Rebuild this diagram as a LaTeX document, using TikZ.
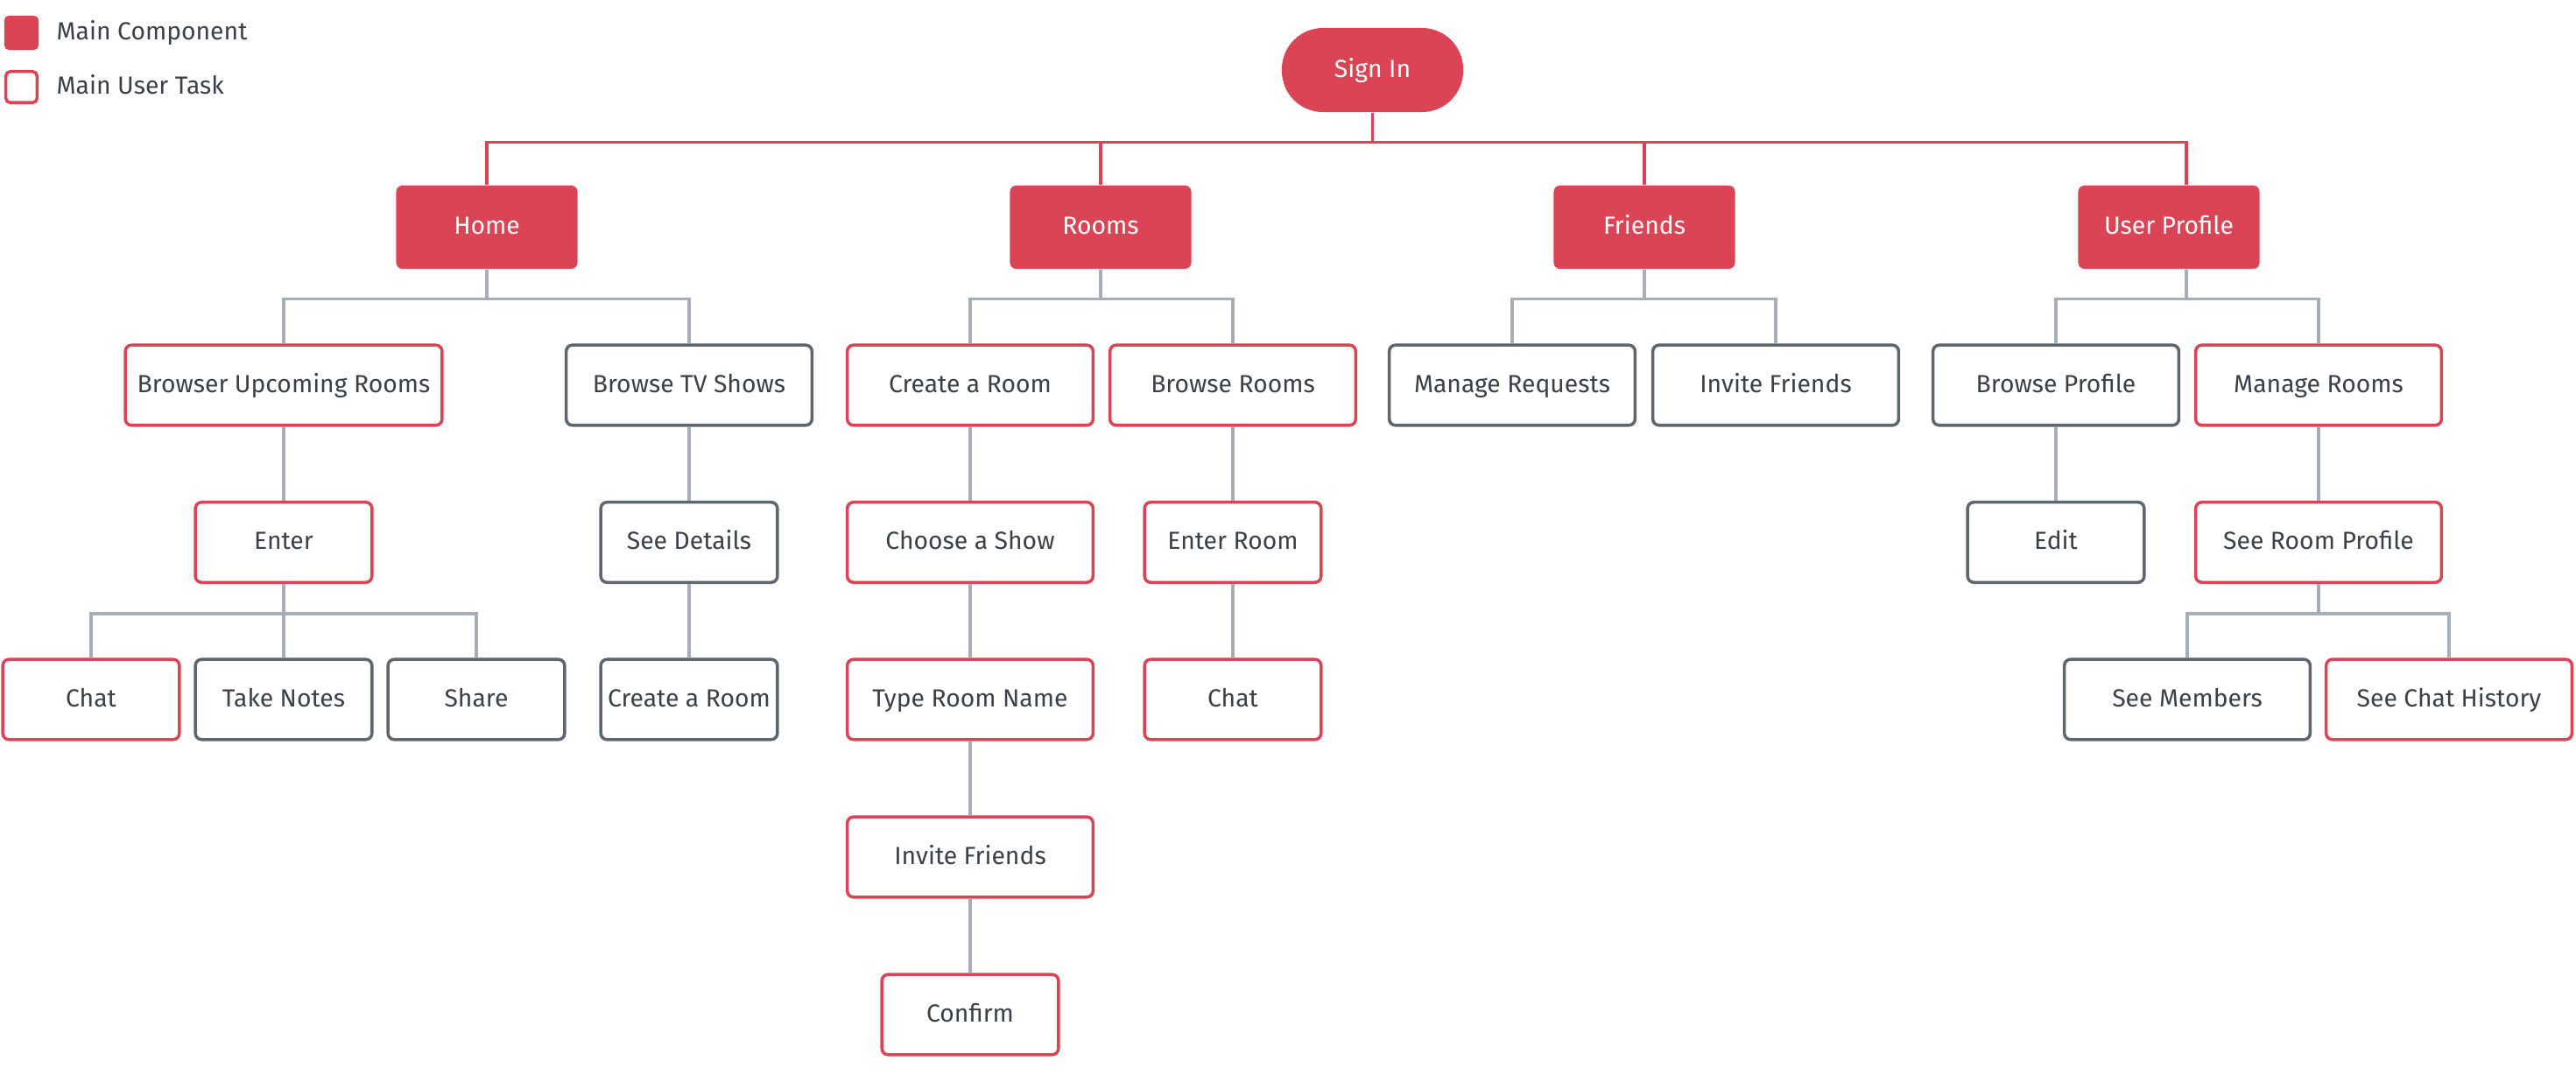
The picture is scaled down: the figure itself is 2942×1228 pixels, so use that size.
\documentclass[tikz,border=0pt]{standalone}
\usepackage{fontspec}
\setmainfont{Fira Sans}
\definecolor{mainred}{HTML}{DB4455}
\definecolor{boxgray}{HTML}{5E6670}
\definecolor{linkgray}{HTML}{A5AEBA}
\definecolor{textgray}{HTML}{3B4149}

\begin{document}
\begin{tikzpicture}[x=0.01cm, y=-0.01cm,
  every node/.style={font=\fontsize{8.05}{10}\selectfont, text=textgray, inner sep=0pt, text height=0.69em, text depth=0.22em},
  comp/.style={fill=mainred, text=white, rounded corners=0.07cm, minimum width=2.07cm, minimum height=0.95cm},
  task/.style={draw=mainred, line width=1pt, fill=white, rounded corners=0.07cm, minimum width=2.015cm, minimum height=0.915cm},
  sub/.style={task, draw=boxgray},
  wide/.style={minimum width=2.805cm},
  redlink/.style={draw=mainred, line width=1pt},
  link/.style={draw=linkgray, line width=1pt}]

\useasboundingbox (0,0) rectangle (2942,1228);

% legend
\node[comp, minimum width=0.39cm, minimum height=0.39cm, rounded corners=0.05cm] (leg_comp) at (24.5,37.5) {};
\node[task, minimum width=0.355cm, minimum height=0.355cm, rounded corners=0.05cm] (leg_task) at (24.5,99.5) {};
\node[anchor=west] (leg_comp_txt) at (64,37.5) {Main Component};
\node[anchor=west] (leg_task_txt) at (64,99.5) {Main User Task};

\node[comp, rounded corners=0.47cm, minimum height=0.96cm] (signin) at (1567.5,80) {Sign In};

\node[comp] (home)    at (556,259.5)  {Home};
\node[comp] (rooms)   at (1257,259.5) {Rooms};
\node[comp] (friends) at (1878,259.5) {Friends};
\node[comp] (uprof)   at (2477,259.5) {User Profile};

\node[task, minimum width=3.615cm] (bur) at (324,440) {Browser Upcoming Rooms};
\node[sub, wide]  (btv)    at (787,440)  {Browse TV Shows};
\node[task, wide] (croom)  at (1108,440) {Create a Room};
\node[task, wide] (brooms) at (1408,440) {Browse Rooms};
\node[sub, wide]  (mreq)   at (1727,440) {Manage Requests};
\node[sub, wide]  (invf)   at (2028,440) {Invite Friends};
\node[sub, wide]  (bprof)  at (2348,440) {Browse Profile};
\node[task, wide] (mrooms) at (2648,440) {Manage Rooms};

\node[task]       (enter)   at (324,619.5)  {Enter};
\node[sub]        (details) at (787,619.5)  {See Details};
\node[task, wide] (cshow)   at (1108,619.5) {Choose a Show};
\node[task]       (eroom)   at (1408,619.5) {Enter Room};
\node[sub]        (edit)    at (2348,619.5) {Edit};
\node[task, wide] (rprof)   at (2648,619.5) {See Room Profile};

\node[task]       (chat_h)  at (104,799)  {Chat};
\node[sub]        (notes)   at (324,799)  {Take Notes};
\node[sub]        (share)   at (544,799)  {Share};
\node[sub]        (croom_tv) at (787,799) {Create a Room};
\node[task, wide] (rname)   at (1108,799) {Type Room Name};
\node[task]       (chat_r)  at (1408,799) {Chat};
\node[sub, wide]  (members) at (2498,799) {See Members};
\node[task, wide] (history) at (2797,799) {See Chat History};

\node[task, wide] (invf_r)  at (1108,979)  {Invite Friends};
\node[task]       (confirm) at (1108,1159) {Confirm};

\foreach \c in {home,rooms,friends}
  \draw[redlink] (signin.south) -- ++(0,34) -| (\c.north);
\draw[redlink] (signin.south) -- ++(0,34) -| ([xshift=0.2cm]uprof.north);

\foreach \p/\c in {home/bur, home/btv, rooms/croom, rooms/brooms, friends/mreq, friends/invf,
    bur/enter, btv/details, croom/cshow, brooms/eroom, bprof/edit, mrooms/rprof,
    enter/chat_h, enter/notes, enter/share, details/croom_tv, cshow/rname, eroom/chat_r,
    rprof/members, rprof/history, rname/invf_r, invf_r/confirm}
  \draw[link] (\p.south) -- ++(0,34) -| (\c.north);
\foreach \c in {bprof,mrooms}
  \draw[link] ([xshift=0.2cm]uprof.south) -- ++(0,34) -| (\c.north);
\end{tikzpicture}
\end{document}
